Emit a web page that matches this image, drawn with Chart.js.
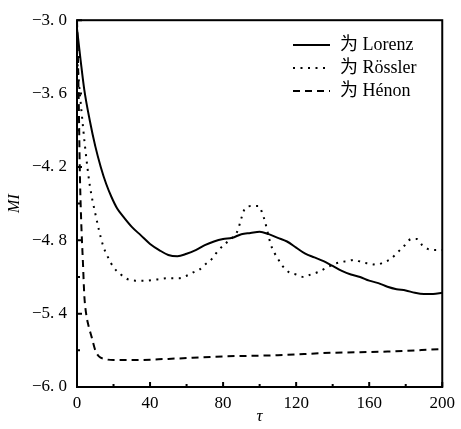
<!DOCTYPE html>
<html lang="zh">
<head>
<meta charset="UTF-8">
<title>MI - tau</title>
<script src="https://cdn.jsdelivr.net/npm/chart.js@4.4.1/dist/chart.umd.min.js"></script>
<style>
    html, body { margin: 0; padding: 0; background: #fff; }
</style>
</head>
<body>

<canvas id="myChart" width="461" height="429"></canvas>

<script>

    // data
    var lorenzTau = [0, 2, 4, 7, 10, 13, 16, 19, 22, 25, 30, 35, 40, 45, 50, 55, 60, 65, 70, 75, 80, 85, 90, 95, 100,
        105, 110, 115, 120, 125, 130, 135, 140, 145, 150, 155, 160, 165, 170, 175, 180, 185, 190, 195, 200];
    var lorenzMI = [-3.07, -3.33, -3.57, -3.82, -4.03, -4.2, -4.34, -4.45, -4.54, -4.6, -4.69, -4.76, -4.83, -4.88,
        -4.92, -4.93, -4.91, -4.88, -4.84, -4.81, -4.79, -4.78, -4.75, -4.74, -4.73, -4.75, -4.78, -4.81, -4.86,
        -4.91, -4.94, -4.97, -5.01, -5.05, -5.08, -5.1, -5.13, -5.15, -5.18, -5.2, -5.21, -5.23, -5.24, -5.24, -5.23];

    var rosslerTau = [0, 1, 2.5, 4.3, 7, 10, 14, 17, 20, 24, 28, 32, 38, 44, 50, 56, 60, 64, 67, 70, 74, 77, 81, 85,
        88, 90, 92, 96, 99.5, 101.5, 103, 104.5, 106, 108, 110, 112, 116, 120, 124, 128, 132, 136, 140, 144, 148,
        152, 156, 160, 164, 168, 172, 175.5, 179.5, 183, 186, 189, 192, 196, 200];
    var rosslerMI = [-3.3, -3.5, -3.75, -4.02, -4.35, -4.58, -4.83, -4.94, -5.02, -5.08, -5.12, -5.13, -5.13, -5.12,
        -5.11, -5.11, -5.09, -5.06, -5.04, -5.0, -4.95, -4.89, -4.83, -4.78, -4.72, -4.62, -4.54, -4.52, -4.52,
        -4.58, -4.65, -4.74, -4.83, -4.9, -4.95, -5.0, -5.06, -5.08, -5.1, -5.08, -5.06, -5.03, -5.0, -4.98,
        -4.97, -4.96, -4.98, -4.99, -5.0, -4.98, -4.95, -4.9, -4.84, -4.79, -4.79, -4.84, -4.87, -4.88, -4.88];

    var henonTau = [0, 0.5, 1, 1.5, 2.2, 3.3, 4, 5, 6.5, 8, 10, 12, 15, 20, 30, 50, 80, 110, 140, 170, 200];
    var henonMI = [-3.0, -3.3, -3.7, -4.2, -4.6, -5.0, -5.25, -5.4, -5.51, -5.59, -5.7, -5.75, -5.77, -5.78, -5.78,
        -5.77, -5.75, -5.74, -5.72, -5.71, -5.69];

    var seriesNames = ['为 Lorenz', '为 Rössler', '为 Hénon'];

    var xTicks = [0, 40, 80, 120, 160, 200];
    var xMinorTicks = [20, 60, 100, 140, 180];
    var yTicks = [-6.0, -5.4, -4.8, -4.2, -3.6, -3.0];
    var yMinorTicks = [-5.7, -5.1, -4.5, -3.9, -3.3];


    var serif = '"Liberation Serif", "Times New Roman", "Noto Sans CJK SC", serif';

    function points(xs, ys) {
        return xs.map(function (x, i) { return {x: x, y: ys[i]}; });
    }

    function fmt(v) {
        var s = Math.abs(v).toFixed(1).replace('.', '. ');
        return (v < 0 ? '\u2212' : '') + s;
    }

    // box round the plot plus inward tick marks
    var frame = {
        id: 'frame',
        afterDatasetsDraw: function (chart) {
            var ctx = chart.ctx;
            var a = chart.chartArea;
            var xs = chart.scales.x, ys = chart.scales.y;
            ctx.save();
            ctx.strokeStyle = '#000';
            ctx.lineWidth = 2;
            ctx.beginPath();
            xTicks.forEach(function (v) {
                var px = xs.getPixelForValue(v);
                ctx.moveTo(px, a.bottom); ctx.lineTo(px, a.bottom - 5);
            });
            xMinorTicks.forEach(function (v) {
                var px = xs.getPixelForValue(v);
                ctx.moveTo(px, a.bottom); ctx.lineTo(px, a.bottom - 3);
            });
            yTicks.forEach(function (v) {
                var py = ys.getPixelForValue(v);
                ctx.moveTo(a.left, py); ctx.lineTo(a.left + 5, py);
            });
            yMinorTicks.forEach(function (v) {
                var py = ys.getPixelForValue(v);
                ctx.moveTo(a.left, py); ctx.lineTo(a.left + 3, py);
            });
            ctx.stroke();
            ctx.strokeRect(a.left, a.top, a.right - a.left, a.bottom - a.top);
            ctx.restore();
        },
        afterDraw: function (chart) {
            // legend in the top right corner
            var ctx = chart.ctx;
            ctx.save();
            ctx.font = '18px ' + serif;
            ctx.textBaseline = 'middle';
            ctx.fillStyle = '#000';
            chart.data.datasets.forEach(function (ds, i) {
                var y = 45 + i * 23;
                ctx.strokeStyle = '#000';
                ctx.lineWidth = ds.borderWidth;
                ctx.setLineDash(ds.borderDash || []);
                ctx.beginPath();
                ctx.moveTo(293, y);
                ctx.lineTo(330, y);
                ctx.stroke();
                ctx.setLineDash([]);
                ctx.fillText(ds.label, 340, y);
            });
            ctx.restore();
        }
    };

    var ctx = document.getElementById('myChart');

    var chart = new Chart(ctx, {
        type: 'line',
        data: {
            datasets: [{
                label: seriesNames[0],
                data: points(lorenzTau, lorenzMI),
                borderColor: '#000',
                borderWidth: 2,
                borderDash: []
            }, {
                label: seriesNames[1],
                data: points(rosslerTau, rosslerMI),
                borderColor: '#000',
                borderWidth: 2,
                borderDash: [2, 5.5]
            }, {
                label: seriesNames[2],
                data: points(henonTau, henonMI),
                borderColor: '#000',
                borderWidth: 2,
                borderDash: [7, 5]
            }]
        },
        plugins: [frame],
        options: {
            responsive: false,
            animation: false,
            layout: {padding: {top: 17, right: 16, left: 0, bottom: 0}},
            elements: {
                point: {radius: 0},
                line: {cubicInterpolationMode: 'monotone', fill: false}
            },
            plugins: {
                legend: {display: false},
                tooltip: {enabled: false}
            },
            scales: {
                x: {
                    type: 'linear',
                    min: 0,
                    max: 200,
                    grid: {display: false, drawTicks: false},
                    border: {display: false},
                    afterBuildTicks: function (scale) {
                        scale.ticks = xTicks.map(function (v) { return {value: v}; });
                    },
                    afterFit: function (scale) { scale.height = 42; },
                    ticks: {
                        color: '#000',
                        padding: 6,
                        maxRotation: 0,
                        font: {family: serif, size: 17}
                    },
                    title: {
                        display: true,
                        text: 'τ',
                        color: '#000',
                        padding: {top: 0, bottom: 2},
                        font: {family: serif, size: 17, style: 'italic'}
                    }
                },
                y: {
                    type: 'linear',
                    min: -6,
                    max: -3,
                    grid: {display: false, drawTicks: false},
                    border: {display: false},
                    afterBuildTicks: function (scale) {
                        scale.ticks = yTicks.map(function (v) { return {value: v}; });
                    },
                    afterFit: function (scale) { scale.width = 77; },
                    ticks: {
                        color: '#000',
                        padding: 10,
                        font: {family: serif, size: 17},
                        callback: function (v) { return fmt(v); }
                    },
                    title: {
                        display: true,
                        text: 'MI',
                        color: '#000',
                        padding: {top: 5, bottom: 0},
                        font: {family: serif, size: 16, style: 'italic'}
                    }
                }
            }
        }
    });

</script>

</body>
</html>
